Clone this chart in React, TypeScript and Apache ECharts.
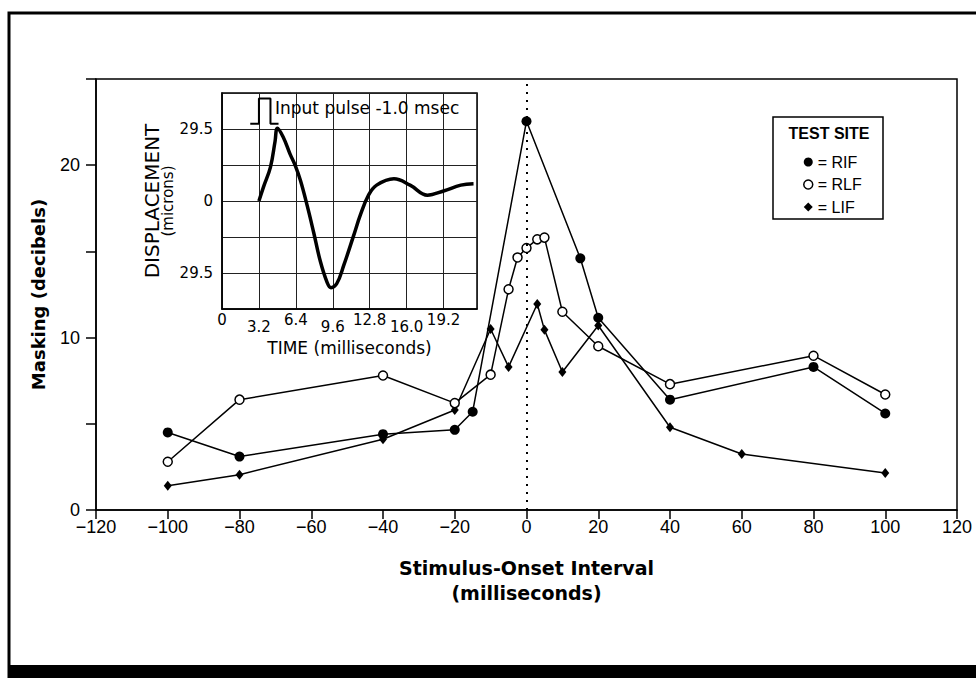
import React, { useEffect, useRef } from "react";
import * as echarts from "echarts";

// ---- Main chart data: Masking (dB) vs stimulus-onset interval (ms) ----
const rifX = [-100, -80, -40, -20, -15, 0, 15, 20, 40, 80, 100];
const rifY = [4.5, 3.1, 4.4, 4.65, 5.7, 22.55, 14.6, 11.15, 6.4, 8.3, 5.6];

const rlfX = [-100, -80, -40, -20, -10, -5, -2.5, 0, 3, 5, 10, 20, 40, 80, 100];
const rlfY = [2.8, 6.4, 7.8, 6.2, 7.85, 12.8, 14.65, 15.2, 15.7, 15.8, 11.5, 9.5, 7.3, 8.95, 6.7];

const lifX = [-100, -80, -40, -20, -10, -5, 3, 5, 10, 20, 40, 60, 100];
const lifY = [1.4, 2.05, 4.1, 5.8, 10.5, 8.3, 11.95, 10.45, 8.0, 10.7, 4.8, 3.25, 2.15];

const seriesNames = ["RIF", "RLF", "LIF"];

// ---- Inset data: displacement (microns) vs time (ms) ----
const waveTime = [3.2, 3.6, 4.2, 4.6, 4.8, 5.3, 5.9, 6.35, 6.8, 7.4, 7.95, 8.5, 9.1, 9.45, 9.95, 10.55, 11.4, 12.0, 12.7, 13.4, 14.9, 16.3, 17.8, 19.2, 20.7, 21.8];
const waveMicrons = [0, 5.8, 13.9, 24.5, 29.8, 26.2, 19.2, 14.5, 8.4, -2.2, -13.0, -24.3, -33.2, -35.5, -33.8, -26.4, -14.3, -5.6, 2.4, 6.5, 9.1, 6.5, 2.4, 4.1, 6.5, 7.1];

const pulseTime = [2.45, 3.2, 3.2, 4.2, 4.2, 4.9];
const pulseMicrons = [31.6, 31.6, 42, 42, 31.6, 31.6];

const zip = (xs: number[], ys: number[]) => xs.map((x, i) => [x, ys[i]]);

const MAIN_FONT = "Liberation Sans";
const INSET_FONT = "DejaVu Sans";

export default function App() {
  const ref = useRef<HTMLDivElement>(null);

  useEffect(() => {
    if (!ref.current) return;
    const chart = echarts.init(ref.current, undefined, { renderer: "svg" });

    const option: any = {
      animation: false,
      backgroundColor: "#fff",
      legend: {
        orient: "vertical",
        left: 798,
        top: 149,
        itemWidth: 9,
        itemHeight: 9,
        itemGap: 6.5,
        selectedMode: false,
        formatter: (n: string) => "= " + n,
        textStyle: { fontSize: 16, lineHeight: 16, fontFamily: MAIN_FONT, color: "#000" },
        data: [
          { name: seriesNames[0], icon: "circle", itemStyle: { color: "#000" } },
          { name: seriesNames[1], icon: "circle", itemStyle: { color: "#fff", borderColor: "#000", borderWidth: 1.5 } },
          { name: seriesNames[2], icon: "diamond", itemStyle: { color: "#000" } },
        ],
      },
      grid: [
        { left: 96, right: 19, top: 79, bottom: 168, show: true, borderColor: "#000", borderWidth: 1.5, backgroundColor: "transparent", outerBoundsMode: "none" },
        { left: 222, right: 499, top: 93, bottom: 369, show: true, borderColor: "#000", borderWidth: 1.5, backgroundColor: "#fff", outerBoundsMode: "none" },
      ],
      xAxis: [
        {
          gridIndex: 0,
          type: "value",
          min: -120,
          max: 120,
          interval: 20,
          axisLine: { show: true, onZero: false, lineStyle: { color: "#000", width: 1.5 } },
          axisTick: { show: true, length: 9, lineStyle: { color: "#000", width: 1.5 } },
          axisLabel: {
            margin: 8,
            color: "#000",
            fontSize: 18,
            fontFamily: MAIN_FONT,
            formatter: (v: number) => (v < 0 ? "\u2212" + Math.abs(v) : String(v)),
          },
          splitLine: { show: false },
          name: "Stimulus-Onset Interval\n(milliseconds)",
          nameLocation: "middle",
          nameGap: 45,
          nameTextStyle: { fontFamily: INSET_FONT, fontWeight: "bold", fontSize: 19, lineHeight: 25, color: "#000" },
        },
        {
          gridIndex: 1,
          type: "value",
          min: 0,
          max: 22.1,
          interval: 3.2,
          axisLine: { show: true, onZero: false, lineStyle: { color: "#000", width: 1.5 } },
          axisTick: { show: false },
          splitLine: { show: true, lineStyle: { color: "#222", width: 1 } },
          axisLabel: {
            margin: 3,
            showMaxLabel: false,
            color: "#000",
            fontSize: 15,
            fontFamily: INSET_FONT,
            formatter: (v: number) => {
              const s = v === 0 ? "0" : v.toFixed(1);
              return Math.round(v / 3.2) % 2 === 0 ? `{hi|${s}}` : `{lo|${s}}`;
            },
            rich: {
              hi: { lineHeight: 15, fontSize: 15, fontFamily: INSET_FONT, color: "#000" },
              lo: { lineHeight: 30, fontSize: 15, fontFamily: INSET_FONT, color: "#000" },
            },
          },
          name: "TIME (milliseconds)",
          nameLocation: "middle",
          nameGap: 30,
          nameTextStyle: { fontFamily: INSET_FONT, fontSize: 17, color: "#000" },
        },
      ],
      yAxis: [
        {
          gridIndex: 0,
          type: "value",
          min: 0,
          max: 25,
          interval: 5,
          axisLine: { show: true, onZero: false, lineStyle: { color: "#000", width: 1.5 } },
          axisTick: { show: true, length: 10, lineStyle: { color: "#000", width: 1.5 } },
          axisLabel: {
            margin: 16,
            color: "#000",
            fontSize: 18,
            fontFamily: MAIN_FONT,
            formatter: (v: number) => (v % 10 === 0 ? String(v) : ""),
          },
          splitLine: { show: false },
          name: "Masking (decibels)",
          nameLocation: "middle",
          nameRotate: 90,
          nameGap: 49,
          nameTextStyle: { fontFamily: INSET_FONT, fontWeight: "bold", fontSize: 18, color: "#000" },
        },
        {
          gridIndex: 1,
          type: "value",
          min: -44.25,
          max: 44.25,
          interval: 14.75,
          axisLine: { show: true, onZero: false, lineStyle: { color: "#000", width: 1.5 } },
          axisTick: { show: false },
          splitLine: { show: true, lineStyle: { color: "#222", width: 1 } },
          axisLabel: {
            margin: 9,
            color: "#000",
            fontSize: 15,
            fontFamily: INSET_FONT,
            formatter: (v: number) => {
              if (Math.abs(v) < 0.01) return "0";
              if (Math.abs(Math.abs(v) - 29.5) < 0.01) return "29.5";
              return "";
            },
          },
          name: "{a|DISPLACEMENT}\n{b|(microns)}",
          nameLocation: "middle",
          nameRotate: 90,
          nameGap: 45,
          nameTextStyle: {
            fontFamily: INSET_FONT,
            fontSize: 15,
            color: "#000",
            rich: {
              a: { fontFamily: INSET_FONT, fontSize: 20, lineHeight: 17, color: "#000" },
              b: { fontFamily: INSET_FONT, fontSize: 15, lineHeight: 15, color: "#000" },
            },
          },
        },
      ],
      graphic: [
        { type: "rect", silent: true, shape: { x: 9, y: 13, width: 990, height: 700 }, style: { fill: "none", stroke: "#000", lineWidth: 3 } },
        { type: "rect", silent: true, shape: { x: 9, y: 665, width: 980, height: 20 }, style: { fill: "#000" } },
        { type: "rect", silent: true, shape: { x: 773, y: 117, width: 110, height: 102 }, style: { fill: "none", stroke: "#000", lineWidth: 1.5 } },
        {
          type: "text",
          silent: true,
          x: 829,
          y: 133,
          style: { text: "TEST SITE", fontSize: 16, fontFamily: MAIN_FONT, fontWeight: "bold", fill: "#000", align: "center", verticalAlign: "middle" },
        },
        {
          type: "text",
          silent: true,
          x: 275,
          y: 108,
          z: 10,
          style: { text: "Input pulse -1.0 msec", fontSize: 17, fontFamily: INSET_FONT, fill: "#000", align: "left", verticalAlign: "middle" },
        },
      ],
      series: [
        {
          name: seriesNames[0],
          type: "line",
          xAxisIndex: 0,
          yAxisIndex: 0,
          data: zip(rifX, rifY),
          symbol: "circle",
          symbolSize: 10,
          lineStyle: { color: "#000", width: 1.5 },
          itemStyle: { color: "#000" },
          markLine: {
            silent: true,
            symbol: "none",
            label: { show: false },
            lineStyle: { color: "#000", width: 2, type: [2, 6] },
            data: [[{ coord: [0, 0] }, { coord: [0, 25] }]],
          },
        },
        {
          name: seriesNames[2],
          type: "line",
          xAxisIndex: 0,
          yAxisIndex: 0,
          data: zip(lifX, lifY),
          symbol: "diamond",
          symbolSize: [8, 10],
          lineStyle: { color: "#000", width: 1.5 },
          itemStyle: { color: "#000" },
        },
        {
          name: seriesNames[1],
          type: "line",
          xAxisIndex: 0,
          yAxisIndex: 0,
          data: zip(rlfX, rlfY),
          symbol: "circle",
          symbolSize: 9,
          lineStyle: { color: "#000", width: 1.5 },
          itemStyle: { color: "#fff", borderColor: "#000", borderWidth: 1.5 },
        },
        {
          name: "wave",
          type: "line",
          xAxisIndex: 1,
          yAxisIndex: 1,
          data: zip(waveTime, waveMicrons),
          smooth: 0.4,
          symbol: "none",
          lineStyle: { color: "#000", width: 3.5 },
          z: 5,
        },
        {
          name: "pulse",
          type: "line",
          xAxisIndex: 1,
          yAxisIndex: 1,
          data: zip(pulseTime, pulseMicrons),
          symbol: "none",
          lineStyle: { color: "#000", width: 2 },
          z: 5,
        },
      ],
    };

    chart.setOption(option);
    return () => chart.dispose();
  }, []);

  return (
    <div
      ref={ref}
      style={{ position: "absolute", left: 0, top: 0, width: 976, height: 678, background: "#fff" }}
    />
  );
}
